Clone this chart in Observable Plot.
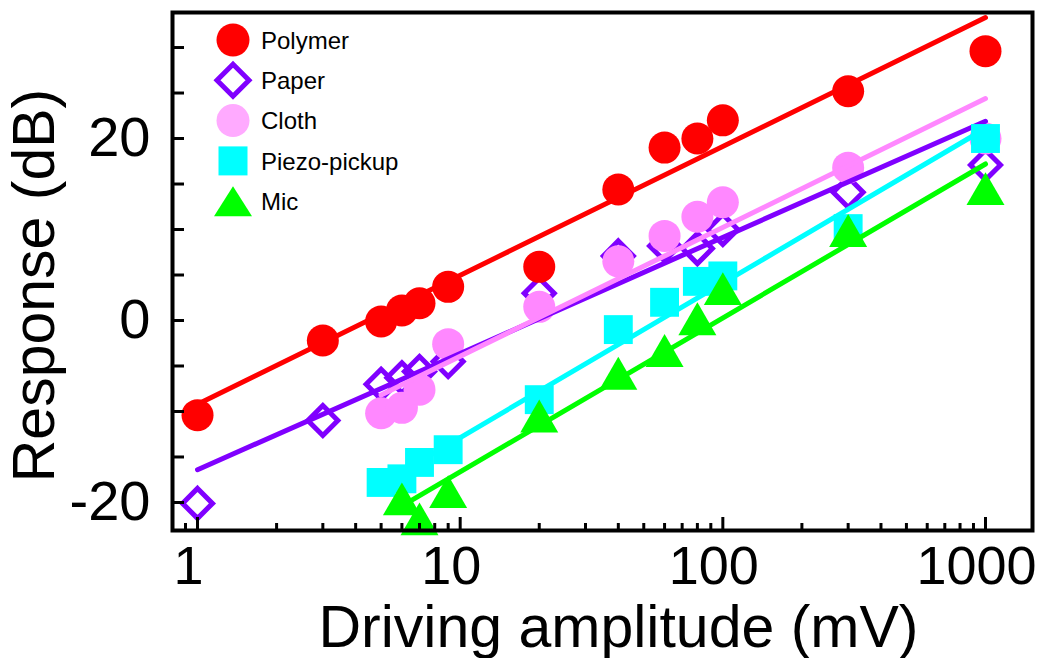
<!DOCTYPE html>
<html><head><meta charset="utf-8">
<script src="https://cdn.jsdelivr.net/npm/d3@7"></script>
<script src="https://cdn.jsdelivr.net/npm/@observablehq/plot@0.6"></script>
<style>
body{margin:0;background:#fff;}
#wrap{position:relative;width:1039px;height:658px;font-family:"Liberation Sans",Arial,sans-serif;}
#legend{position:absolute;left:0;top:0;}
</style></head><body><div id="wrap"></div>
<script>
// ---- data ----
const seriesNames = ["Polymer", "Paper", "Cloth", "Piezo-pickup", "Mic"];
const seriesColors = ["#FF0000", "#8000FF", "#FF88FF", "#00FFFF", "#00FF00"];
const legendColors = ["#FF0000", "#8000FF", "#FFAAFF", "#00FFFF", "#00FF00"];

const polymerX = [1, 3, 5, 6, 7, 9, 20, 40, 60, 80, 100, 300, 1000];
const polymerY = [-10.4, -2.2, -0.1, 1.1, 1.9, 3.7, 5.9, 14.4, 19.0, 20.0, 22.0, 25.2, 29.6];
const paperX = [1, 3, 5, 6, 7, 9, 20, 40, 60, 80, 100, 300, 1000];
const paperY = [-20.1, -11.0, -7.0, -6.3, -5.6, -4.5, 3.0, 7.1, 8.2, 7.9, 10.0, 14.1, 17.1];
const clothX = [5, 6, 7, 9, 20, 40, 60, 80, 100, 300, 1000];
const clothY = [-10.2, -9.6, -7.6, -2.6, 1.5, 6.5, 9.3, 11.4, 13.0, 16.8, 20.0];
const piezoX = [5, 6, 7, 9, 20, 40, 60, 80, 100, 300, 1000];
const piezoY = [-17.8, -17.4, -15.6, -14.2, -8.7, -1.0, 2.0, 4.3, 4.9, 10.1, 20.0];
const micX = [6, 7, 9, 20, 40, 60, 80, 100, 300, 1000];
const micY = [-19.6, -21.8, -18.8, -10.5, -5.8, -3.3, 0.2, 3.5, 9.9, 14.5];

// fitted lines: end points
const polymerFitX = [1, 1000], polymerFitY = [-9.2, 33.3];
const paperFitX = [1, 1000], paperFitY = [-16.4, 21.9];
const clothFitX = [5, 1000], clothFitY = [-8.2, 24.4];
const piezoFitX = [7, 1000], piezoFitY = [-15.5, 21.1];
const micFitX = [6.5, 1000], micFitY = [-19.8, 17.2];

const xLabelTicks = [1, 10, 100, 1000];
const xMinorTicks = [0.9, 2, 3, 4, 5, 6, 7, 8, 9, 20, 30, 40, 50, 60, 70, 80, 90, 200, 300, 400, 500, 600, 700, 800, 900];
const yLabelTicks = [-20, 0, 20];
const yTicks = [-20, -15, -10, -5, 0, 5, 10, 15, 20, 25, 30];
const xTitle = "Driving amplitude (mV)";
const yTitle = "Response (dB)";

// ---- helpers ----
const rows = (xs, ys) => xs.map((x, i) => ({x, y: ys[i]}));
const diamondSym = {draw(ctx, size) {const r = Math.sqrt(size) * 0.62625; ctx.moveTo(0, -r); ctx.lineTo(r, 0); ctx.lineTo(0, r); ctx.lineTo(-r, 0); ctx.closePath();}};
const lineOpts = (c) => ({x: "x", y: "y", stroke: c, strokeWidth: 5, strokeLinecap: "round"});

const chart = Plot.plot({
  width: 1039, height: 658,
  marginLeft: 172, marginRight: 7, marginTop: 12, marginBottom: 128,
  x: {type: "log", domain: [0.803, 1510]},
  y: {domain: [-23.08, 33.85]},
  style: {fontFamily: "'Liberation Sans', Arial, sans-serif", background: "white", color: "black"},
  marks: [
    Plot.dot(rows(paperX, paperY), {x: "x", y: "y", symbol: diamondSym, r: 13.5, fill: "none", stroke: seriesColors[1], strokeWidth: 5}),
    Plot.dot(rows(polymerX, polymerY), {x: "x", y: "y", symbol: "circle", r: 16, fill: seriesColors[0], stroke: "none"}),
    Plot.dot(rows(clothX, clothY), {x: "x", y: "y", symbol: "circle", r: 16, fill: seriesColors[2], stroke: "none"}),
    Plot.line(rows(paperFitX, paperFitY), lineOpts(seriesColors[1])),
    Plot.line(rows(polymerFitX, polymerFitY), lineOpts(seriesColors[0])),
    Plot.line(rows(clothFitX, clothFitY), lineOpts(seriesColors[2])),
    Plot.dot(rows(piezoX, piezoY), {x: "x", y: "y", symbol: "square", r: 16.3, fill: seriesColors[3], stroke: "none"}),
    Plot.line(rows(piezoFitX, piezoFitY), lineOpts(seriesColors[3])),
    Plot.dot(rows(micX, micY), {x: "x", y: "y", symbol: "triangle", r: 14.1, dy: 5.5, fill: seriesColors[4], stroke: "none"}),
    Plot.line(rows(micFitX, micFitY), lineOpts(seriesColors[4])),
    Plot.axisY(yTicks, {anchor: "left", tickSize: -12, strokeWidth: 3, tickFormat: () => "", label: null}),
    Plot.axisY(yLabelTicks, {anchor: "left", tickSize: 0, tickPadding: 22, tickFormat: d => String(d), fontSize: 56, label: null}),
    Plot.axisX(xLabelTicks, {anchor: "bottom", tickSize: -13, strokeWidth: 3, tickFormat: () => "", label: null}),
    Plot.axisX(xMinorTicks, {anchor: "bottom", tickSize: -7, strokeWidth: 3, tickFormat: () => "", label: null}),
    Plot.axisX(xLabelTicks, {anchor: "bottom", tickSize: 0, tickPadding: 15, dx: -9, tickFormat: d => String(d), fontSize: 54, label: null}),
    Plot.frame({stroke: "black", strokeWidth: 4}),
    Plot.text([xTitle], {frameAnchor: "bottom", lineAnchor: "bottom", textAnchor: "middle", dy: 116, dx: 16, fontSize: 59, fill: "black"}),
    Plot.text([yTitle], {frameAnchor: "left", rotate: -90, lineAnchor: "bottom", textAnchor: "middle", dx: -119, dy: 14, fontSize: 59, fill: "black"})
  ]
});
const wrap = document.getElementById("wrap");
wrap.appendChild(chart);

// ---- legend (inside the plot area, top-left) ----
const lg = d3.select(wrap).append("svg").attr("id", "legend").attr("width", 1039).attr("height", 658)
  .style("pointer-events", "none");
const symbols = ["circle", "diamond", "circle", "square", "triangle"];
const mx = 233, tx = 261, y0 = 40, step = 40.3;
seriesNames.forEach((name, i) => {
  const cy = y0 + i * step;
  const c = legendColors[i];
  const s = symbols[i];
  if (s === "circle") lg.append("circle").attr("cx", mx).attr("cy", cy).attr("r", 16.5).attr("fill", c);
  else if (s === "diamond") lg.append("path").attr("d", `M${mx},${cy - 16}L${mx + 16},${cy}L${mx},${cy + 16}L${mx - 16},${cy}Z`).attr("fill", "none").attr("stroke", c).attr("stroke-width", 5);
  else if (s === "square") lg.append("rect").attr("x", mx - 14.5).attr("y", cy - 14.5).attr("width", 29).attr("height", 29).attr("fill", c);
  else lg.append("path").attr("d", `M${mx},${cy - 15}L${mx + 19},${cy + 15}L${mx - 19},${cy + 15}Z`).attr("fill", c);
  lg.append("text").attr("x", tx).attr("y", cy + 8.6).attr("font-size", 24)
    .attr("font-family", "'Liberation Sans', Arial, sans-serif").attr("fill", "black").text(name);
});
</script></body></html>
